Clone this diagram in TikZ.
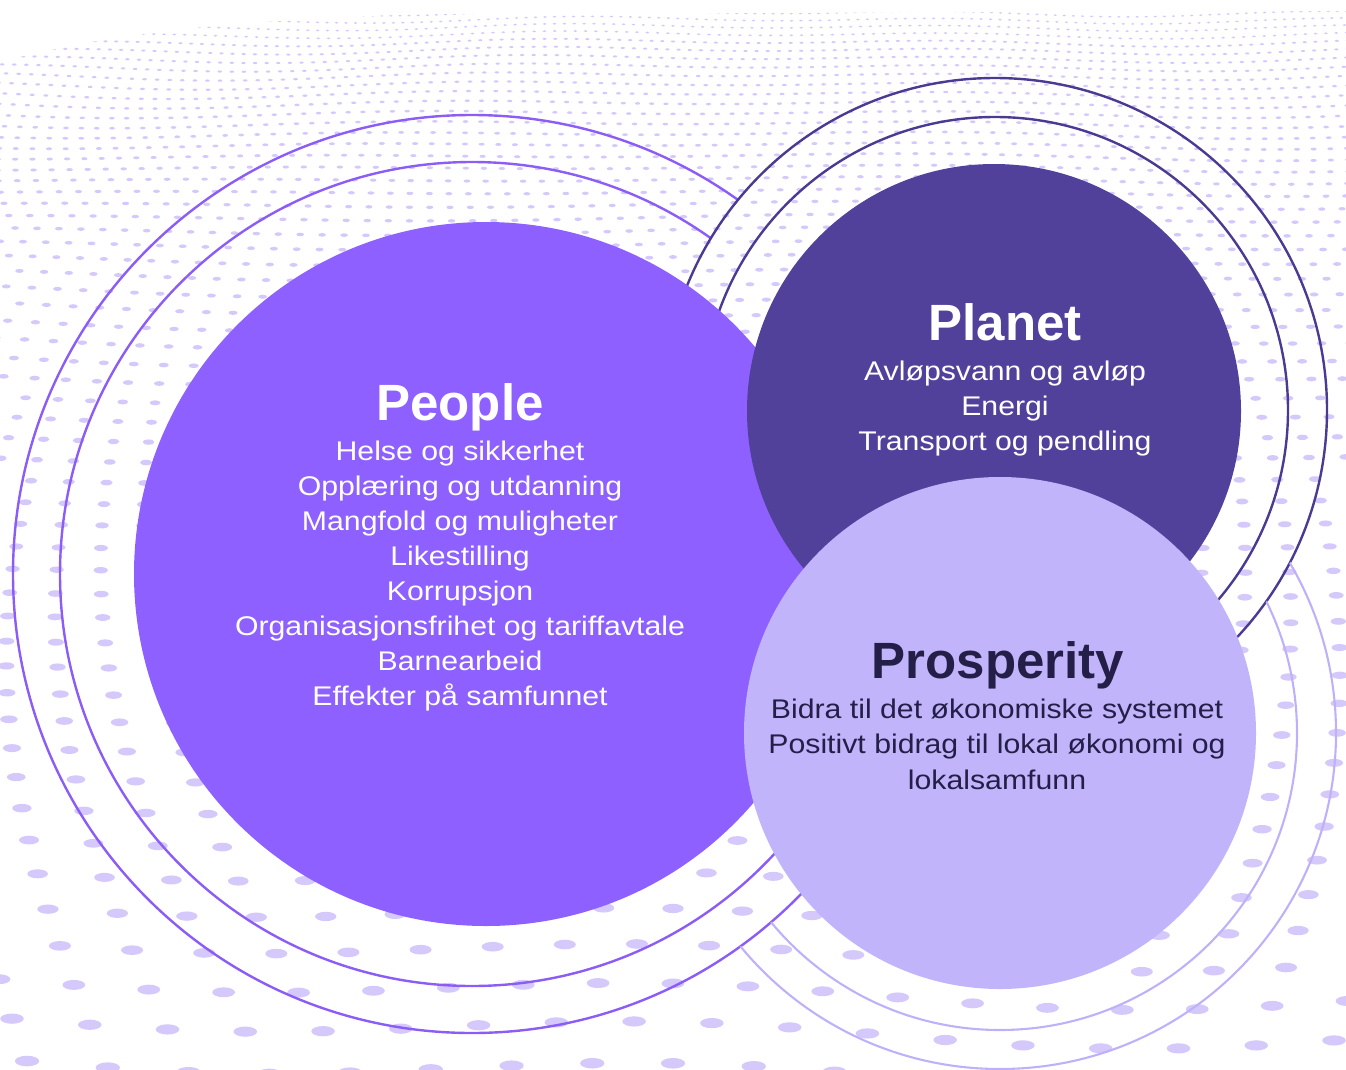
\documentclass[tikz,border=0pt]{standalone}
\usepackage{fontspec}
\setmainfont{Liberation Sans}
\newfontfamily\bodyfont[FakeStretch=1.12]{Liberation Sans}
\definecolor{peoplec}{HTML}{8D60FF}
\definecolor{planetc}{HTML}{52419B}
\definecolor{prospc}{HTML}{C2B4FA}
\definecolor{darktxt}{HTML}{241F48}
\definecolor{peoplering}{HTML}{8B5CF6}
\definecolor{planetring}{HTML}{4A3A92}
\definecolor{prospring}{HTML}{BEB1F9}
\definecolor{dotc}{HTML}{D5C8FB}
\begin{document}
\begin{tikzpicture}[x=1pt,y=-1pt,
  titletext/.style={font=\bfseries\fontsize{51}{60}\selectfont, inner sep=0pt, anchor=base},
  bodytext/.style={font=\bodyfont\fontsize{27}{35}\selectfont, inner sep=0pt, anchor=base},
  ring/.style={line width=2.4pt}]
\useasboundingbox (0,0) rectangle (1346,1069);
% background dotted surface
\begin{scope}
\clip (0,0) rectangle (1346,1069);
\foreach \k in {0,...,57} {
  \pgfmathsetmacro\s{7*1.0319^\k}
  \pgfmathsetmacro\yk{13+7*(1.0319^\k-1)/0.0319}
  \pgfmathsetmacro\sx{\s*(1.3+0.7*\k/57)}
  \pgfmathtruncatemacro\nj{673/\sx+2}
  \pgfmathtruncatemacro\mj{-\nj}
  \pgfmathsetmacro\rx{\sx*(0.19-0.04*\k/57)}
  \pgfmathsetmacro\ry{0.13*\s}
  \foreach \j in {\mj,...,\nj} {
    \pgfmathsetmacro\xx{673+(\j+0.5*mod(\k,2))*\sx}
    \pgfmathsetmacro\yy{\yk+0.3*\s*sin(\j*9+\k*7)+0.25*\s*sin(\xx*0.4)}
    \fill[dotc] (\xx,\yy) ellipse[x radius=\rx pt, y radius=\ry pt];
  }
}
\fill[white] (0,0) -- (0,62) .. controls (120,30) and (250,20) .. (420,14) -- (1346,11) -- (1346,0) -- cycle;
\end{scope}
% People rings
\begin{scope}[even odd rule]
\clip (-10,-10) rectangle (1360,1080) (995,410) circle[radius=332pt];
\draw[ring, peoplering] (472,574) circle[radius=412pt];
\draw[ring, peoplering] (472,574) circle[radius=459pt];
\end{scope}
% Planet rings
\draw[ring, planetring] (995,410) circle[radius=293pt];
\draw[ring, planetring] (995,410) circle[radius=332pt];
% Prosperity rings
\begin{scope}[even odd rule]
\clip (-10,-10) rectangle (1360,1080) (472,574) circle[radius=459pt];
\begin{scope}[even odd rule]
\clip (-10,-10) rectangle (1360,1080) (995,410) circle[radius=332pt];
\draw[ring, prospring, line width=2.1pt] (1000,733) circle[radius=297pt];
\draw[ring, prospring, line width=2.1pt] (1000,733) circle[radius=336pt];
\end{scope}
\end{scope}
% filled discs
\fill[peoplec] (486,574) circle[radius=352pt];
\fill[planetc] (994,411) circle[radius=247pt];
\fill[prospc] (1000,733) circle[radius=256pt];
% texts
\node[titletext, white] (peopleT) at (460,420) {People};
\foreach \t [count=\i] in {Helse og sikkerhet, Opplæring og utdanning, Mangfold og muligheter, Likestilling, Korrupsjon, Organisasjonsfrihet og tariffavtale, Barnearbeid, Effekter på samfunnet}
  \node[bodytext, white] (people\i) at (460,{460+35*(\i-1)}) {\t};
\node[titletext, white] (planetT) at (1005,340) {Planet};
\foreach \t [count=\i] in {Avløpsvann og avløp, Energi, Transport og pendling}
  \node[bodytext, white] (planet\i) at (1005,{380+35*(\i-1)}) {\t};
\node[titletext, darktxt] (prospT) at (998,678) {Prosperity};
\foreach \t [count=\i] in {Bidra til det økonomiske systemet, Positivt bidrag til lokal økonomi og, lokalsamfunn}
  \node[bodytext, darktxt] (prosp\i) at (997,{718+35.5*(\i-1)}) {\t};
\end{tikzpicture}
\end{document}
